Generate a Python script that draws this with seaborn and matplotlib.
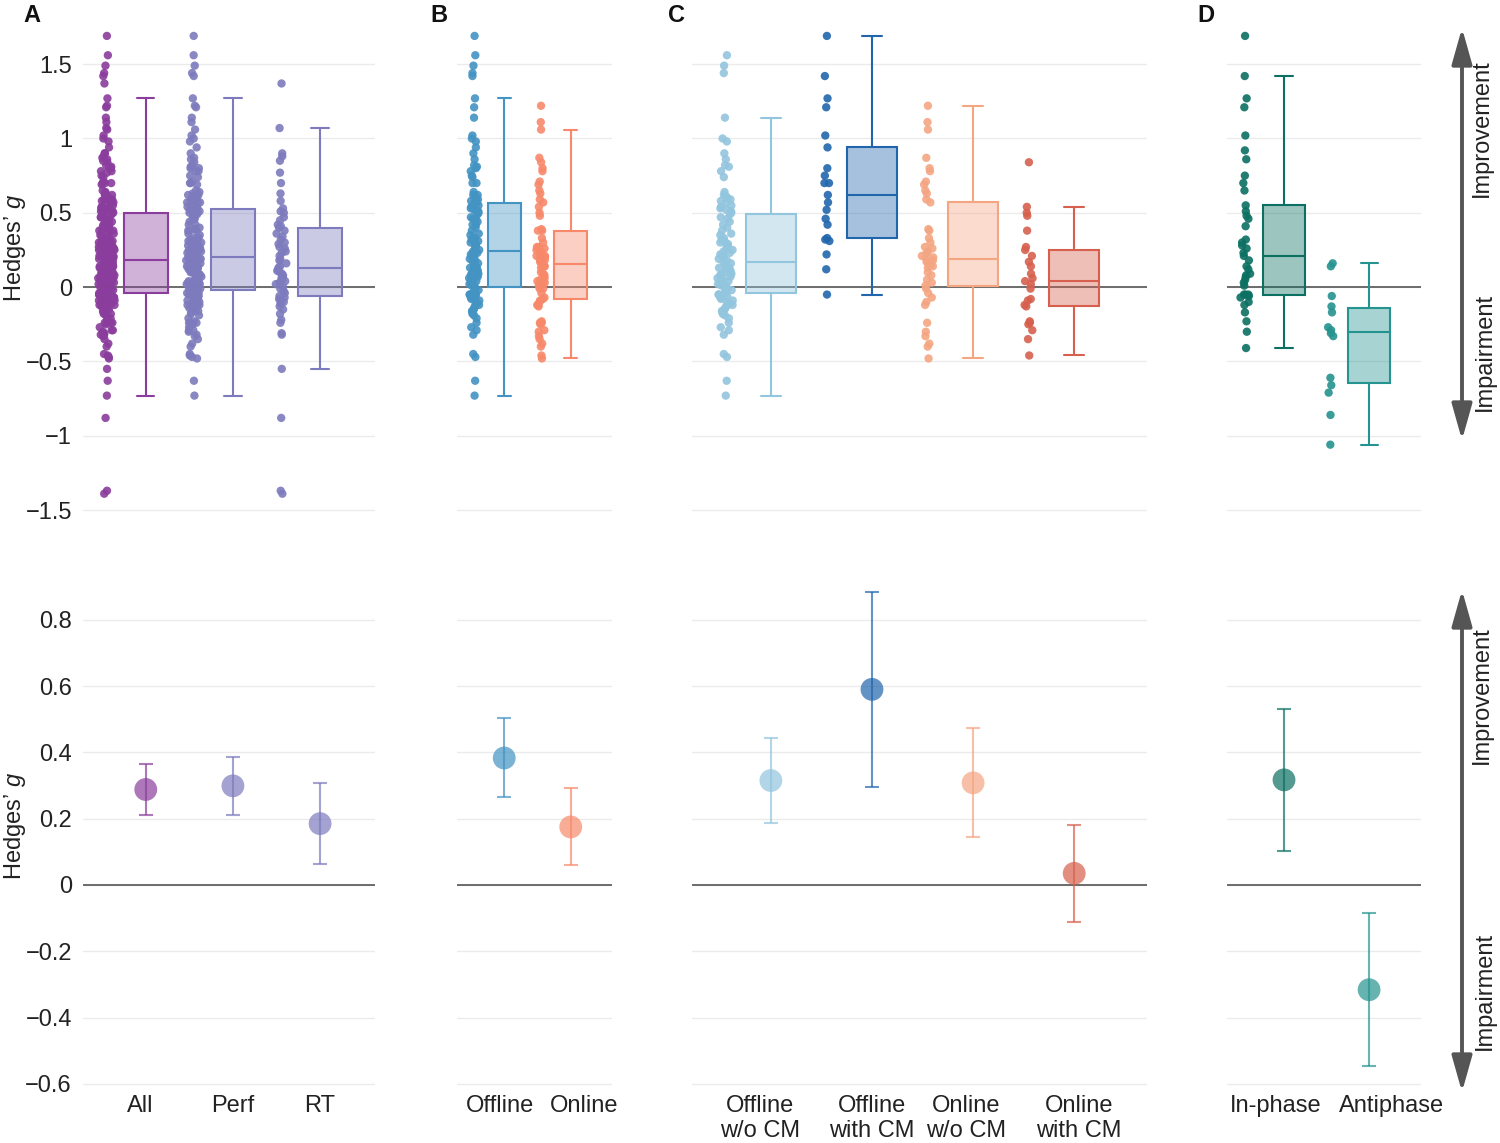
import numpy as np
import pandas as pd
import matplotlib
matplotlib.use("Agg")
import matplotlib.pyplot as plt
import seaborn as sns
from matplotlib.colors import to_rgba
from matplotlib.patches import FancyArrowPatch


# ---- effect sizes per study (Hedges' g) ----
offline_wo_cm = [
    -0.73, -0.63, -0.47, -0.45, -0.32, -0.29, -0.27,
    -0.24, -0.21, -0.19, -0.18, -0.17, -0.16, -0.15, -0.14, -0.13, -0.12, -0.11, -0.10,
    -0.09, -0.08, -0.07, -0.06, -0.05, -0.05,
    -0.04, -0.03, -0.02, -0.01, 0.00, 0.01, 0.01, 0.02, 0.03, 0.04, 0.05, 0.05, 0.06,
    0.07, 0.08, 0.09, 0.09, 0.10, 0.11, 0.12, 0.13, 0.13, 0.14, 0.15, 0.16,
    0.17, 0.18, 0.19, 0.20, 0.21, 0.22, 0.23, 0.24, 0.25, 0.26, 0.27, 0.28, 0.29, 0.30,
    0.31, 0.32, 0.33, 0.35, 0.36, 0.38, 0.40, 0.42, 0.44, 0.46, 0.47,
    0.49, 0.50, 0.51, 0.52, 0.53, 0.54, 0.55, 0.57, 0.58, 0.59, 0.60, 0.61, 0.62, 0.64,
    0.74, 0.78, 0.81, 0.82, 0.86, 0.90, 0.98, 1.00, 1.14, 1.44, 1.49, 1.56,
]
offline_with_cm = [
    -0.05, 0.12, 0.22, 0.31, 0.32, 0.33, 0.42, 0.46, 0.52, 0.57, 0.62,
    0.70, 0.70, 0.75, 0.80, 0.94, 1.02, 1.21, 1.27, 1.42, 1.69,
]
online_wo_cm = [
    -0.48, -0.40, -0.38, -0.33, -0.30, -0.24, -0.12, -0.10, -0.07, -0.04, -0.01,
    0.01, 0.03, 0.05, 0.08, 0.10, 0.13, 0.14, 0.15, 0.16, 0.17, 0.18,
    0.19, 0.20, 0.21, 0.23, 0.24, 0.26, 0.27, 0.30, 0.33, 0.38, 0.39,
    0.57, 0.59, 0.63, 0.65, 0.69, 0.71, 0.78, 0.80, 0.87, 1.06, 1.11, 1.22,
]
online_with_cm = [
    -0.46, -0.35, -0.29, -0.25, -0.24, -0.23, -0.13, -0.12, -0.09, -0.08, -0.01, 0.02,
    0.04, 0.06, 0.09, 0.14, 0.17, 0.21, 0.25, 0.27, 0.38, 0.48, 0.50, 0.54, 0.84,
]
rt = [
    -1.39, -1.37, -0.88, -0.55, -0.32, -0.31, -0.24, -0.22, -0.18, -0.15, -0.13, -0.11,
    -0.10, -0.09, -0.08, -0.07, -0.06, -0.04, -0.03, -0.01, 0.00, 0.02, 0.03, 0.04,
    0.05, 0.06, 0.07, 0.08, 0.09, 0.10, 0.11, 0.12, 0.13, 0.14, 0.16, 0.18, 0.19, 0.21,
    0.23, 0.24, 0.26, 0.27, 0.29, 0.30, 0.32, 0.34, 0.36, 0.38, 0.40, 0.41, 0.42, 0.45,
    0.47, 0.50, 0.51, 0.53, 0.58, 0.63, 0.70, 0.77, 0.85, 0.88, 0.90, 1.07, 1.37,
]
in_phase = [
    -0.41, -0.30, -0.23, -0.17, -0.12, -0.10, -0.07, -0.06, -0.05, -0.05, -0.05,
    0.01, 0.03, 0.05, 0.07, 0.08, 0.09, 0.12, 0.14, 0.18, 0.21,
    0.23, 0.26, 0.28, 0.30, 0.32, 0.41, 0.46, 0.48, 0.51, 0.55,
    0.65, 0.70, 0.75, 0.86, 0.92, 1.02, 1.21, 1.27, 1.42, 1.69,
]
antiphase = [
    0.16, 0.14, -0.06, -0.13, -0.17, -0.27, -0.29, -0.31, -0.33,
    -0.61, -0.66, -0.71, -0.86, -1.06,
]

offline = offline_wo_cm + offline_with_cm
online = online_wo_cm + online_with_cm
perf = offline + online
all_tasks = perf + rt

# ---- pooled estimates with 95% CI ----
cats_a = ["All", "Perf", "RT"]
est_a = [0.288, 0.299, 0.185]
lo_a = [0.212, 0.212, 0.064]
hi_a = [0.364, 0.385, 0.307]

cats_b = ["Offline", "Online"]
est_b = [0.383, 0.175]
lo_b = [0.265, 0.060]
hi_b = [0.504, 0.293]

cats_c = ["Offline\nw/o CM", "Offline\nwith CM", "Online\nw/o CM", "Online\nwith CM"]
est_c = [0.315, 0.590, 0.308, 0.035]
lo_c = [0.188, 0.295, 0.144, -0.113]
hi_c = [0.444, 0.884, 0.474, 0.180]

cats_d = ["In-phase", "Antiphase"]
est_d = [0.317, -0.316]
lo_d = [0.102, -0.545]
hi_d = [0.530, -0.084]

colors_a = ["#8a3d9c", "#7d7bbd", "#7d7bbd"]
colors_b = ["#4393c3", "#f7896a"]
colors_c = ["#92c5de", "#2166ac", "#f4a582", "#d6604d"]
colors_d = ["#0b7062", "#25938f"]

top_ticks = [-1.5, -1, -0.5, 0, 0.5, 1, 1.5]
top_labels = ["\u22121.5", "\u22121", "\u22120.5", "0", "0.5", "1", "1.5"]
bottom_ticks = [-0.6, -0.4, -0.2, 0, 0.2, 0.4, 0.6, 0.8]
bottom_labels = ["\u22120.6", "\u22120.4", "\u22120.2", "0", "0.2", "0.4", "0.6", "0.8"]

sns.set_theme(style="white")
plt.rcParams["font.family"] = ["Liberation Sans", "DejaVu Sans"]
plt.rcParams["mathtext.fontset"] = "custom"
plt.rcParams["mathtext.rm"] = "Liberation Sans"
plt.rcParams["mathtext.it"] = "Liberation Sans:italic"

W, H = 1500, 1143
TEXT = "#222222"
fig = plt.figure(figsize=(W / 100, H / 100), dpi=100)


def fig_box(x0, x1, y0, y1):
    return [x0 / W, 1 - y1 / H, (x1 - x0) / W, (y1 - y0) / H]


def draw_strips(ax, cats, groups, colors):
    df = pd.DataFrame({
        "cat": np.repeat(np.array(cats, dtype=object), [len(g) for g in groups]),
        "g": np.concatenate([np.asarray(g, float) for g in groups]),
    })
    n_before = len(ax.collections)
    sns.stripplot(data=df, x="cat", y="g", hue="cat", order=cats, hue_order=cats,
                  palette=colors, jitter=False, size=6, linewidth=0, alpha=0.9,
                  legend=False, ax=ax, zorder=3)
    # density-scaled jitter, left of each box
    rng = np.random.default_rng(7)
    for coll in ax.collections[n_before:]:
        off = np.asarray(coll.get_offsets(), float).copy()
        if len(off) == 0:
            continue
        y = off[:, 1]
        dens = (np.abs(y[:, None] - y[None, :]) < 0.05).sum(axis=1)
        spread = 0.115 * dens / (dens + 6)
        off[:, 0] = np.round(off[:, 0]) - 0.45 + spread * rng.uniform(-1, 1, len(y))
        coll.set_offsets(off)


def draw_boxes(ax, cats, groups, colors):
    for cat, vals, col in zip(cats, groups, colors):
        sub = pd.DataFrame({"cat": [cat] * len(vals), "g": vals})
        n_lines, n_patches = len(ax.lines), len(ax.patches)
        sns.boxplot(data=sub, x="cat", y="g", order=cats, color=col, linecolor=col,
                    linewidth=1.5, width=0.5, showfliers=False, saturation=1, ax=ax)
        for p in ax.patches[n_patches:]:
            p.set_facecolor(to_rgba(col, 0.4))
            p.set_edgecolor(col)
        for ln in ax.lines[n_lines:]:
            xd = np.asarray(ln.get_xdata(), float)
            yd = np.asarray(ln.get_ydata(), float)
            if len(xd) == 2 and yd[0] == yd[1] and abs(xd[1] - xd[0]) < 0.4:
                c = xd.mean()
                ln.set_xdata([c - 0.1, c + 0.1])


def draw_estimates(ax, est, lo, hi, colors):
    pos = np.arange(len(est))
    for i, (e, l, h, col) in enumerate(zip(est, lo, hi, colors)):
        ax.errorbar(i, e, yerr=[[e - l], [h - e]], fmt="none", ecolor=col,
                    elinewidth=1.5, capsize=5, capthick=1.5, alpha=0.7, zorder=3)
    sns.scatterplot(x=pos, y=est, hue=pos, palette=colors, s=270, alpha=0.7,
                    linewidth=0, legend=False, ax=ax, zorder=4)


def style_axis(ax, xlim, ylim, ticks, labels, show_y):
    ax.set_xlim(xlim)
    ax.set_ylim(ylim)
    ax.set_yticks(ticks)
    ax.set_yticklabels(labels)
    ax.grid(True, axis="y", color="#ebebeb", lw=1)
    ax.grid(False, axis="x")
    ax.set_axisbelow(True)
    ax.axhline(0, color="#555555", lw=1.2, zorder=1.5)
    sns.despine(ax=ax, left=True, bottom=True)
    ax.tick_params(length=0, labelsize=17, colors=TEXT, pad=8)
    if not show_y:
        ax.tick_params(labelleft=False)
    ax.set_xlabel("")
    ax.set_ylabel("")


panels = [
    ("A", cats_a, [all_tasks, perf, rt], colors_a, est_a, lo_a, hi_a,
     (83, 375), (-0.72, 2.63), [-0.06, 1.0, 2.0], 23),
    ("B", cats_b, [offline, online], colors_b, est_b, lo_b, hi_b,
     (457, 612), (-0.71, 1.62), [-0.07, 1.2], 430),
    ("C", cats_c, [offline_wo_cm, offline_with_cm, online_wo_cm, online_with_cm], colors_c,
     est_c, lo_c, hi_c, (692, 1147), (-0.78, 3.72), [-0.11, 1.0, 1.93, 3.05], 668),
    ("D", cats_d, [in_phase, antiphase], colors_d, est_d, lo_d, hi_d,
     (1227, 1421), (-0.67, 1.61), [-0.1, 1.26], 1197),
]

for k, (letter, cats, groups, colors, est, lo, hi, xpx, xlim, label_pos, letter_x) in enumerate(panels):
    ax_top = fig.add_axes(fig_box(xpx[0], xpx[1], 27, 517.5))
    draw_strips(ax_top, cats, groups, colors)
    draw_boxes(ax_top, cats, groups, colors)
    style_axis(ax_top, xlim, (-1.55, 1.75), top_ticks, top_labels, k == 0)
    ax_top.set_xticks([])

    ax_bot = fig.add_axes(fig_box(xpx[0], xpx[1], 586.6, 1090.5))
    draw_estimates(ax_bot, est, lo, hi, colors)
    style_axis(ax_bot, xlim, (-0.62, 0.9), bottom_ticks, bottom_labels, k == 0)
    ax_bot.set_xticks(label_pos)
    ax_bot.set_xticklabels(cats, fontsize=17)
    ax_bot.tick_params(axis="x", pad=3)

    if k == 0:
        for ax, ycoord in ((ax_top, 0.55), (ax_bot, 0.525)):
            ax.set_ylabel("Hedges\u2019 $g$", fontsize=17, color=TEXT, va="center")
            ax.yaxis.set_label_coords(-0.233, ycoord)

    fig.text(letter_x / W, 1 - 15 / H, letter, fontsize=17, fontweight="bold",
             ha="left", va="center", color="#111111")

# direction arrows on the right
for (y_top, y_bot, y_imp, y_dec) in ((28, 440, 128, 352), (590, 1092, 695, 991)):
    arrow = FancyArrowPatch(posA=(1462 / W, 1 - y_top / H), posB=(1462 / W, 1 - y_bot / H),
                            transform=fig.transFigure,
                            arrowstyle="<|-|>,head_length=2.2,head_width=0.62",
                            mutation_scale=10, color="#555555", lw=2.8,
                            shrinkA=0, shrinkB=0)
    fig.add_artist(arrow)
    fig.text(1482 / W, 1 - y_imp / H, "Improvement", rotation=90, fontsize=17,
             ha="center", va="center", color=TEXT)
    fig.text(1485 / W, 1 - y_dec / H, "Impairment", rotation=90, fontsize=17,
             ha="center", va="center", color=TEXT)

fig.savefig("out.png", dpi=100)
